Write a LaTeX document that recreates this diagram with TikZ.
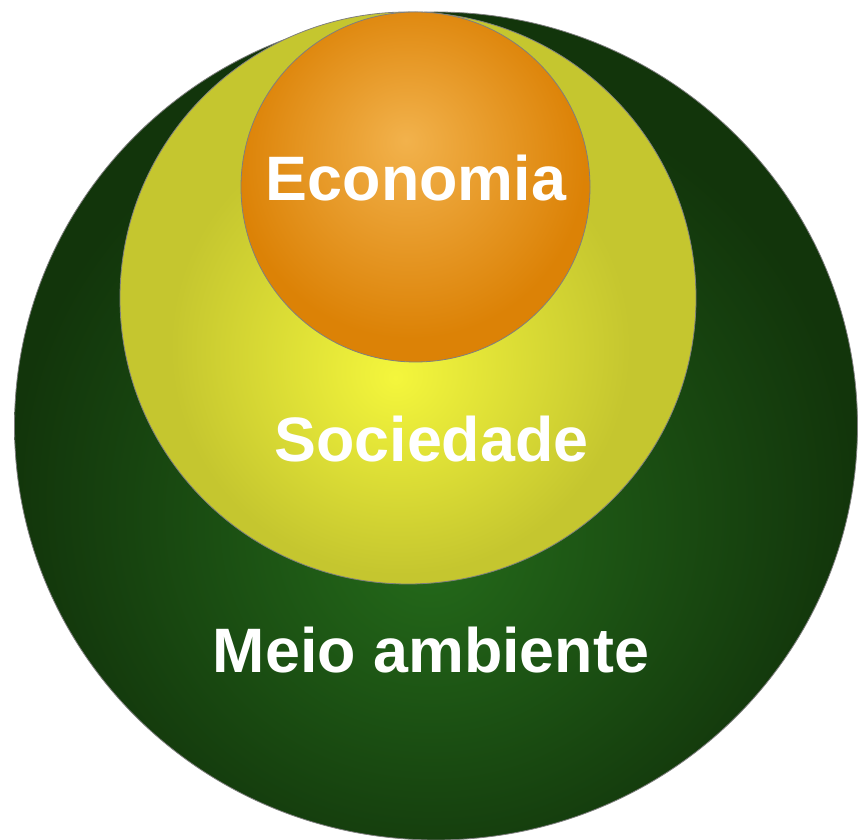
\documentclass[tikz,border=0pt]{standalone}
\usepackage{fontspec}
\setmainfont{Liberation Sans}
\definecolor{greenC}{HTML}{246A1A}
\definecolor{greenE}{HTML}{12350B}
\definecolor{yellowC}{HTML}{F4F63C}
\definecolor{yellowE}{HTML}{C5C62F}
\definecolor{orangeC}{HTML}{F2B24C}
\definecolor{orangeE}{HTML}{DC8206}
\definecolor{borderC}{HTML}{7F7F7F}
\pgfdeclareradialshading{greenshade}{\pgfpoint{-0.4bp}{-8bp}}{color(0bp)=(greenC); color(25bp)=(greenE); color(50bp)=(greenE)}
\pgfdeclareradialshading{yellowshade}{\pgfpoint{-1.1bp}{-7bp}}{color(0bp)=(yellowC); color(20bp)=(yellowE); color(50bp)=(yellowE)}
\pgfdeclareradialshading{orangeshade}{\pgfpoint{-1.4bp}{6.7bp}}{color(0bp)=(orangeC); color(25bp)=(orangeE); color(50bp)=(orangeE)}
\tikzset{
  ring/.style={draw=borderC, line width=0.8pt},
  label/.style={text=white, font=\bfseries\fontsize{62.8}{62.8}\selectfont, anchor=base, inner sep=0pt}
}
\begin{document}
\begin{tikzpicture}[x=1pt,y=1pt]
\useasboundingbox (0,0) rectangle (859,840);
\shadedraw[ring, shading=greenshade] (436,414) ellipse [x radius=421.5, y radius=414];
\shadedraw[ring, shading=yellowshade] (408,542) ellipse [x radius=288, y radius=286];
\shadedraw[ring, shading=orangeshade] (415.5,653) ellipse [x radius=174.5, y radius=175];
\node[label] (eco) at (416,639) {Economia};
\node[label] (soc) at (431.5,378) {Sociedade};
\node[label] (meio) at (431,167) {Meio ambiente};
\end{tikzpicture}
\end{document}
